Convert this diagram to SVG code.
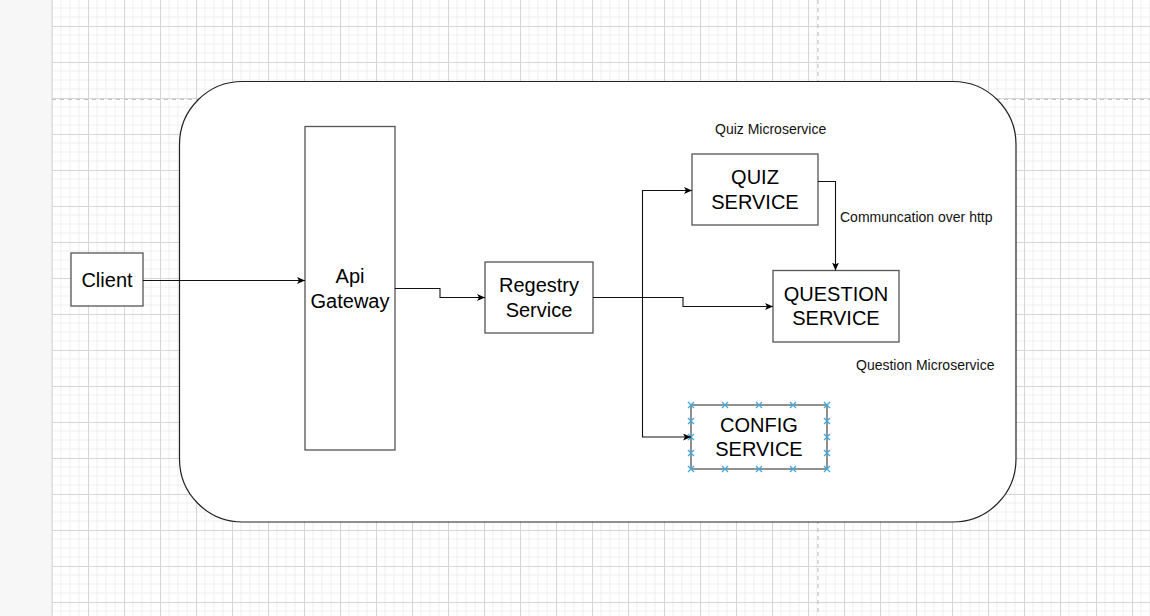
<svg xmlns="http://www.w3.org/2000/svg" width="1150" height="616" viewBox="0 0 1150 616">
  <defs>
    <pattern id="grid" patternUnits="userSpaceOnUse" x="52" y="-10" width="36" height="36">
      <rect width="36" height="36" fill="#ffffff"/>
      <path d="M9 0V36M18 0V36M27 0V36M0 9H36M0 18H36M0 27H36" stroke="#efefef" stroke-width="1" fill="none"/>
      <path d="M0.5 0V36M0 0.5H36" stroke="#d6d6d6" stroke-width="1" fill="none"/>
    </pattern>
    <marker id="arr" viewBox="0 0 8 7" refX="8" refY="3.5" markerWidth="8" markerHeight="7" markerUnits="userSpaceOnUse" orient="auto">
      <path d="M0,0 L8,3.5 L0,7 L2,3.5 z" fill="#000"/>
    </marker>
    <g id="hx">
      <path d="M-3,-3 L3,3 M-3,3 L3,-3" stroke="#47a9e0" stroke-width="1.4" fill="none"/>
    </g>
  </defs>
  <style>
    .box { fill: #ffffff; stroke: #555555; stroke-width: 1.3; }
    .big { fill: #ffffff; stroke: #222222; stroke-width: 1.2; }
    .t { font-family: "Liberation Sans", Arial, sans-serif; font-size: 20px; fill: #000; text-anchor: middle; }
    .lbl { font-family: "Liberation Sans", Arial, sans-serif; font-size: 14px; fill: #111; }
    .edge { fill: none; stroke: #111; stroke-width: 1.1; }
    .pb { stroke: #c4c4c4; stroke-width: 1.2; stroke-dasharray: 4 4; fill: none; }
  </style>

  <!-- background -->
  <rect x="0" y="0" width="1150" height="616" fill="#f7f7f7"/>
  <rect x="52" y="0" width="1098" height="616" fill="url(#grid)"/>
  <line x1="52" y1="0" x2="52" y2="616" stroke="#e2e2e2" stroke-width="1.5"/>
  <path class="pb" d="M52 99.5H1150M818 0V616"/>

  <!-- container -->
  <g id="container">
    <rect class="big" x="179.5" y="81.5" width="836.5" height="440.5" rx="63" ry="63"/>
  </g>

  <g id="client">
    <rect class="box" x="71" y="253" width="72" height="53"/>
    <text class="t" x="107" y="286.5">Client</text>
  </g>

  <g id="api-gateway">
    <rect class="box" x="305" y="126.5" width="90" height="323.5"/>
    <text class="t" x="350" y="283">Api</text>
    <text class="t" x="350" y="307.5">Gateway</text>
  </g>

  <g id="registry-service">
    <rect class="box" x="485" y="262" width="108" height="71"/>
    <text class="t" x="539" y="292">Regestry</text>
    <text class="t" x="539" y="316.5">Service</text>
  </g>

  <g id="quiz-service">
    <rect class="box" x="692" y="154" width="126" height="71"/>
    <text class="t" x="755" y="184.2">QUIZ</text>
    <text class="t" x="755" y="208.8">SERVICE</text>
  </g>

  <g id="question-service">
    <rect class="box" x="773" y="270.5" width="126" height="71.5"/>
    <text class="t" x="836" y="300.7">QUESTION</text>
    <text class="t" x="836" y="325.3">SERVICE</text>
  </g>

  <g id="config-service">
    <rect class="box" x="691" y="405" width="136" height="64"/>
    <text class="t" x="759" y="431.5">CONFIG</text>
    <text class="t" x="759" y="456">SERVICE</text>
    <g id="config-handles">
      <use href="#hx" x="691" y="405"/><use href="#hx" x="725" y="405"/><use href="#hx" x="759" y="405"/><use href="#hx" x="793" y="405"/><use href="#hx" x="827" y="405"/>
      <use href="#hx" x="691" y="469"/><use href="#hx" x="725" y="469"/><use href="#hx" x="759" y="469"/><use href="#hx" x="793" y="469"/><use href="#hx" x="827" y="469"/>
      <use href="#hx" x="691" y="421"/><use href="#hx" x="691" y="437"/><use href="#hx" x="691" y="453"/>
      <use href="#hx" x="827" y="421"/><use href="#hx" x="827" y="437"/><use href="#hx" x="827" y="453"/>
    </g>
  </g>

  <g id="labels">
    <text class="lbl" x="715" y="133.5">Quiz Microservice</text>
    <text class="lbl" x="840" y="222">Communcation over http</text>
    <text class="lbl" x="856" y="369.5">Question Microservice</text>
  </g>

  <g id="connectors">
    <path class="edge" d="M143 280.5H305" marker-end="url(#arr)"/>
    <path class="edge" d="M395 288.5H440V297.5H485" marker-end="url(#arr)"/>
    <path class="edge" d="M593 297.5H683V306.5H773" marker-end="url(#arr)"/>
    <path class="edge" d="M593 297.5H642.5V190.5H692" marker-end="url(#arr)"/>
    <path class="edge" d="M642.5 297.5V437H691" marker-end="url(#arr)"/>
    <path class="edge" d="M818 181.5H835.5V270.5" marker-end="url(#arr)"/>
  </g>
</svg>
